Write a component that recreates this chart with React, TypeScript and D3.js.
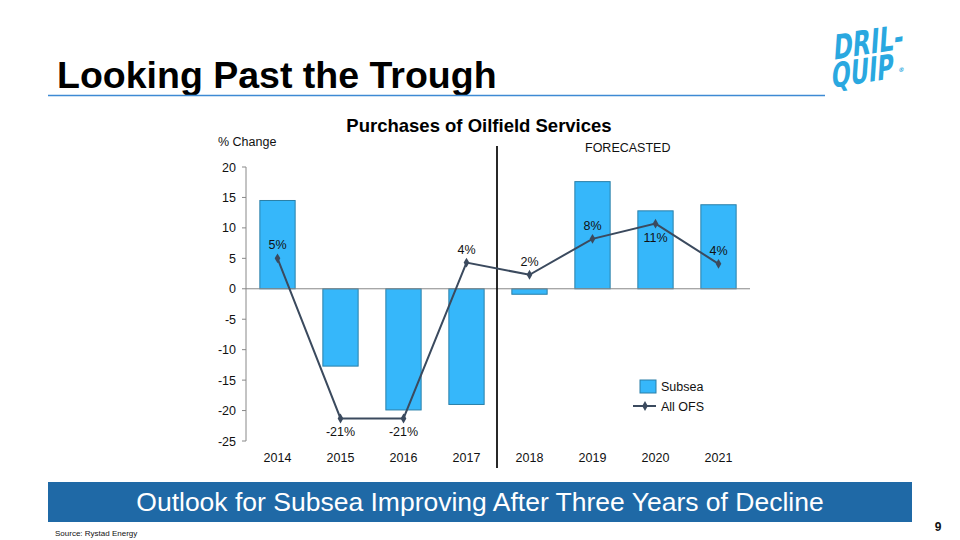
import React from "react";
import * as d3 from "d3";

const years = ["2014", "2015", "2016", "2017", "2018", "2019", "2020", "2021"];
const subsea = [14.5, -12.7, -19.9, -19.0, -0.9, 17.6, 12.8, 13.8];
const allOfs = [5.0, -21.3, -21.3, 4.3, 2.3, 8.2, 10.7, 4.1];
const allOfsLabels = ["5%", "-21%", "-21%", "4%", "2%", "8%", "11%", "4%"];
const labelBelow = [false, true, true, false, false, false, true, false];
const yTicks = [20, 15, 10, 5, 0, -5, -10, -15, -20, -25];

const FONT = "'Liberation Sans', Arial, sans-serif";

export default function App() {
  const x = d3.scaleBand<string>().domain(years).range([246, 750]).paddingInner(0.44).paddingOuter(0.22);
  const y = d3.scaleLinear().domain([-25, 20]).range([441, 167]);
  const cx = (d: string) => (x(d) as number) + x.bandwidth() / 2;
  const line = d3
    .line<number>()
    .x((_, i) => cx(years[i]))
    .y((v) => y(v));
  const diamond = d3.symbol().type(d3.symbolDiamond).size(28)();

  return (
    <svg width={960} height={540} style={{ position: "absolute", left: 0, top: 0, background: "#fff" }} fontFamily={FONT}>
      <rect width={960} height={540} fill="#fff" />
      {/* Slide title */}
      <text x={57} y={88} fontSize={37.5} fontWeight="bold" fill="#000">Looking Past the Trough</text>
      <line x1={48} x2={825} y1={95.5} y2={95.5} stroke="#3d8ad4" strokeWidth={1.5} />
      {/* Logo */}
      <g fill="#2aa8e0" fontWeight="bold" fontFamily="'DejaVu Sans', sans-serif" fontSize={34} transform="translate(837,0) skewY(-9) skewX(-4)">
        <text x={0} y={191} transform="translate(0,-132)" textLength={70} lengthAdjust="spacingAndGlyphs">DRIL-</text>
        <text x={0} y={219} transform="translate(0,-132)" textLength={62} lengthAdjust="spacingAndGlyphs">QUIP</text>
        <text x={67} y={214} fontSize={6} transform="translate(0,-132)">®</text>
      </g>

      {/* Chart title */}
      <text x={479} y={132} textAnchor="middle" fontSize={18.5} fontWeight="bold" fill="#000">Purchases of Oilfield Services</text>
      <text x={218} y={146} fontSize={12.5} fill="#111">% Change</text>
      <text x={585} y={152} fontSize={12.5} fill="#111">FORECASTED</text>

      {/* Y axis */}
      <line x1={246} x2={246} y1={y(20)} y2={y(-25)} stroke="#888" />
      {yTicks.map((t) => (
        <g key={t}>
          <line x1={242} x2={246} y1={y(t)} y2={y(t)} stroke="#888" />
          <text x={236} y={y(t) + 4.5} textAnchor="end" fontSize={12.5} fill="#111">{t}</text>
        </g>
      ))}

      {/* Bars */}
      {subsea.map((v, i) => (
        <rect
          key={years[i]}
          x={x(years[i])}
          width={x.bandwidth()}
          y={y(Math.max(0, v))}
          height={Math.abs(y(v) - y(0))}
          fill="#36b7fa"
          stroke="#2a7fa8"
          strokeWidth={1}
        />
      ))}

      {/* Zero line */}
      <line x1={246} x2={750} y1={y(0)} y2={y(0)} stroke="#888" />

      {/* X labels */}
      {years.map((d) => (
        <text key={d} x={cx(d)} y={462} textAnchor="middle" fontSize={12.5} fill="#111">{d}</text>
      ))}

      {/* Divider */}
      <line x1={497} x2={497} y1={146} y2={468} stroke="#111" strokeWidth={1.8} />

      {/* Line */}
      <path d={line(allOfs) || ""} fill="none" stroke="#3b4a5e" strokeWidth={2} />
      {allOfs.map((v, i) => (
        <path key={i} d={diamond || ""} transform={`translate(${cx(years[i])},${y(v)})`} fill="#3b4a5e" />
      ))}
      {allOfs.map((v, i) => (
        <text
          key={"l" + i}
          x={cx(years[i])}
          y={labelBelow[i] ? y(v) + 18 : y(v) - 9}
          textAnchor="middle"
          fontSize={12.5}
          fill="#111"
        >
          {allOfsLabels[i]}
        </text>
      ))}

      {/* Legend */}
      <rect x={640} y={380} width={16} height={13} fill="#36b7fa" stroke="#2a7fa8" />
      <text x={661} y={391} fontSize={12.5} fill="#111">Subsea</text>
      <line x1={633} x2={656} y1={406} y2={406} stroke="#3b4a5e" strokeWidth={2} />
      <path d={diamond || ""} transform="translate(645,406)" fill="#3b4a5e" />
      <text x={661} y={411} fontSize={12.5} fill="#111">All OFS</text>

      {/* Banner */}
      <rect x={48} y={482} width={864} height={40} fill="#1f69a6" />
      <text x={480} y={511} textAnchor="middle" fontSize={26.5} fill="#fff">Outlook for Subsea Improving After Three Years of Decline</text>
      <text x={938} y={531} textAnchor="middle" fontSize={12} fontWeight="bold" fill="#111">9</text>
      <text x={55} y={536} fontSize={8} fill="#111">Source: Rystad Energy</text>
    </svg>
  );
}
